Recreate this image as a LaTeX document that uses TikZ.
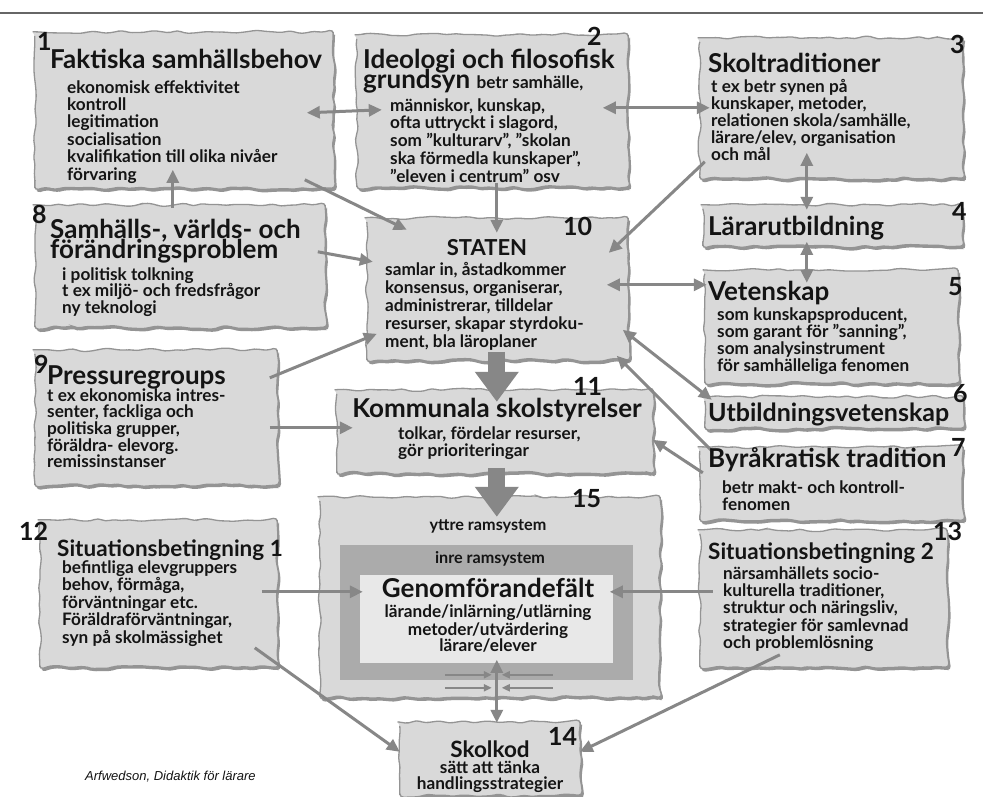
\documentclass[tikz,border=0pt]{standalone}
\usepackage{fontspec}
\setmainfont{Lato}
\newfontfamily\arialfont{Liberation Sans}
\usetikzlibrary{arrows.meta,decorations.pathmorphing,calc}
\newcommand\myN{\fontsize{25}{25}\selectfont\bfseries}
\newcommand\myT{\fontsize{26}{26}\selectfont\bfseries}
\newcommand\myU{\fontsize{25}{25}\selectfont\bfseries}
\newcommand\myC{\fontsize{22}{22}\selectfont\bfseries}
\newcommand\myS{\fontsize{22.5}{23}\selectfont\bfseries}
\newcommand\myB{\fontsize{17.2}{18}\selectfont\bfseries}
\newcommand\myR{\fontsize{16.2}{17}\selectfont\bfseries}
\newcommand\pbox[5]{\node[inner sep=0pt,minimum width={(#4-#2)*1pt},minimum height={(#5-#3)*1pt}] (#1) at ({(#2+#4)/2},{(#3+#5)/2}) {};
 \path[paper] (#1.north west) rectangle (#1.south east);}
\newcommand\tl[6]{\foreach \ltext [count=\k] in {#6}{\node[txt,font=#5] (#1-\k) at (#2,{#3+(\k-1)*#4}) {\ltext};}}
\newcommand\bxp[3]{([shift={(#2,#3)}]#1.north west)}
\begin{document}
\pgfmathsetseed{11}
\begin{tikzpicture}[x=1pt,y=-1pt,
 paper/.style={draw=black!42, line width=1.3pt, fill=black!15,
   decorate, decoration={random steps,segment length=8pt,amplitude=1.8pt}, rounded corners=4pt,
   preaction={fill=black!42, transform canvas={shift={(1.8pt,-2.8pt)}}}},
 txt/.style={anchor=base west, inner sep=0pt, text=black!92},
 ctxt/.style={anchor=base, inner sep=0pt, text=black!92},
 arr/.style={draw=black!47, line width=3pt, -{Triangle[length=13pt,width=12pt]}},
 darr/.style={draw=black!47, line width=3pt, {Triangle[length=13pt,width=12pt]}-{Triangle[length=13pt,width=12pt]}},
 bigarr/.style={draw=black!47, line width=17pt, -{Triangle[length=30pt,width=42pt]}},
 smarr/.style={draw=black!47, line width=2pt, -{Triangle[length=8pt,width=7pt]}}]
\useasboundingbox (0,0) rectangle (983,796);
\fill[white] (0,0) rectangle (983,796);
\draw[black!60, line width=1.2pt] (0,13) -- (983,13);
% boxes
\pbox{b1}{35}{32}{333}{188}
\pbox{b2}{357}{35}{628}{187}
\pbox{b3}{700}{38}{963}{178}
\pbox{b4}{703}{205}{962}{246}
\pbox{b5}{705}{270}{958}{383}
\pbox{b6}{705}{397}{963}{428}
\pbox{b7}{700}{447}{963}{520}
\pbox{b8}{35}{205}{325}{327}
\pbox{b9}{35}{350}{277}{485}
\pbox{b10}{367}{218}{628}{360}
\pbox{b11}{337}{390}{653}{473}
\pbox{b15}{320}{497}{660}{697}
\pbox{b12}{40}{520}{277}{667}
\pbox{b13}{700}{530}{947}{667}
\pbox{b14}{400}{722}{580}{795}
\node[fill=black!33, inner sep=0pt, minimum width=293pt, minimum height=135pt] (ir) at (486.5,612.5) {};
\node[fill=black!9, inner sep=0pt, minimum width=253pt, minimum height=88pt] (g) at (486.5,619) {};
% arrows
\draw[darr] \bxp{b1}{272}{81} -- \bxp{b2}{25}{75};
\draw[darr] \bxp{b2}{246}{73} -- \bxp{b3}{10}{70};
\draw[arr] \bxp{b8}{138}{3} -- \bxp{b1}{138}{138};
\draw[arr] \bxp{b1}{270}{148} -- \bxp{b10}{40}{12};
\draw[arr] \bxp{b2}{140}{148} -- \bxp{b10}{130}{15};
\draw[arr] \bxp{b3}{5}{124} -- \bxp{b10}{242}{35};
\draw[darr] \bxp{b3}{107}{115} -- \bxp{b4}{104}{5};
\draw[darr] \bxp{b4}{104}{37} -- \bxp{b5}{102}{13};
\draw[darr] \bxp{b10}{240}{67} -- \bxp{b5}{2}{15};
\draw[arr] \bxp{b8}{283}{47} -- \bxp{b10}{6}{44};
\draw[arr] \bxp{b9}{235}{28} -- \bxp{b10}{10}{116};
\draw[arr] \bxp{b9}{235}{78} -- \bxp{b11}{16}{38};
\draw[darr] \bxp{b10}{256}{112} -- \bxp{b6}{7}{3};
\draw[arr] \bxp{b7}{13}{5} -- \bxp{b10}{250}{138};
\draw[arr] \bxp{b7}{3}{26} -- \bxp{b11}{316}{50};
\draw[bigarr] \bxp{b10}{130}{134} -- \bxp{b11}{160}{12};
\draw[bigarr] \bxp{b11}{160}{78} -- \bxp{b15}{177}{20};
\draw[arr] \bxp{b12}{222}{72} -- \bxp{g}{3}{17};
\draw[arr] \bxp{b13}{13}{62} -- \bxp{g}{250}{17};
\draw[arr] \bxp{b12}{215}{128} -- \bxp{b14}{0}{30};
\draw[arr] \bxp{b13}{80}{125} -- \bxp{b14}{180}{30};
\draw[darr] \bxp{g}{137}{85} -- \bxp{b14}{97}{1};
\draw[smarr] \bxp{b15}{125}{178} -- \bxp{b15}{172}{178};
\draw[smarr] \bxp{b15}{233}{178} -- \bxp{b15}{182}{178};
\draw[smarr] \bxp{b15}{125}{191} -- \bxp{b15}{172}{191};
\draw[smarr] \bxp{b15}{233}{191} -- \bxp{b15}{182}{191};
% numbers
\node[txt,font=\myN] (n1) at (37,50) {1};
\node[txt,font=\myN] (n2) at (587,45) {2};
\node[txt,font=\myN] (n3) at (950,53) {3};
\node[txt,font=\myN] (n4) at (952,220) {4};
\node[txt,font=\myN] (n5) at (948,295) {5};
\node[txt,font=\myN] (n6) at (953,402) {6};
\node[txt,font=\myN] (n7) at (951,456) {7};
\node[txt,font=\myN] (n8) at (32,223) {8};
\node[txt,font=\myN] (n9) at (34,373) {9};
\node[txt,font=\myN] (n10) at (563,235) {10};
\node[txt,font=\myN] (n11) at (573,395) {11};
\node[txt,font=\myN] (n12) at (19,540) {12};
\node[txt,font=\myN] (n13) at (933,540) {13};
\node[txt,font=\myN] (n14) at (548,745) {14};
\node[txt,font=\myN] (n15) at (572,507) {15};
% texts
\node[txt,font=\myT] (h1) at (50,68) {Faktiska samhällsbehov};
\tl{t1}{67}{93}{17.4}{\myB}{{ekonomisk effektivitet},{kontroll},{legitimation},{socialisation},{kvalifikation till olika nivåer},{förvaring}}
\node[txt,font=\myT] (h2a) at (363,68) {Ideologi och filosofisk};
\node[txt,font=\myT] (h2b) at (363,88) {grundsyn {\myB betr samhälle,}};
\tl{t2}{390}{111}{17.9}{\myB}{{människor, kunskap,},{ofta uttryckt i slagord,},{som "kulturarv", "skolan},{ska förmedla kunskaper",},{"eleven i centrum" osv}}
\node[txt,font=\myT] (h3) at (708,72) {Skoltraditioner};
\tl{t3}{711}{92}{17}{\myB}{{t ex betr synen på},{kunskaper, metoder,},{relationen skola/samhälle,},{lärare/elev, organisation},{och mål}}
\node[txt,font=\myT] (h4) at (708,235) {Lärarutbildning};
\node[txt,font=\myT] (h5) at (708,300) {Vetenskap};
\tl{t5}{717}{320}{17.3}{\myB}{{som kunskapsproducent,},{som garant för "sanning",},{som analysinstrument},{för samhälleliga fenomen}}
\node[txt,font=\myU] (h6) at (708,421) {Utbildningsvetenskap};
\node[txt,font=\myT] (h7) at (708,467) {Byråkratisk tradition};
\tl{t7}{722}{493}{17}{\myB}{{betr makt- och kontroll-},{fenomen}}
\tl{h8}{50}{238}{20}{\myT}{{Samhälls-, världs- och},{förändringsproblem}}
\tl{t8}{62}{280}{16.8}{\myB}{{i politisk tolkning},{t ex miljö- och fredsfrågor},{ny teknologi}}
\node[txt,font=\myT] (h9) at (47,384) {Pressuregroups};
\tl{t9}{47}{401}{16.7}{\myB}{{t ex ekonomiska intres-},{senter, fackliga och},{politiska grupper,},{föräldra- elevorg.},{remissinstanser}}
\node[ctxt,font=\myC] (h10) at (487,255) {STATEN};
\tl{t10}{385}{275}{18}{\myB}{{samlar in, åstadkommer},{konsensus, organiserar,},{administrerar, tilldelar},{resurser, skapar styrdoku-},{ment, bla läroplaner}}
\node[ctxt,font=\myT] (h11) at (497,417) {Kommunala skolstyrelser};
\tl{t11}{398}{439}{17}{\myB}{{tolkar, fördelar resurser,},{gör prioriteringar}}
\node[txt,font=\myS] (h12) at (57,556) {Situationsbetingning 1};
\tl{t12}{62}{573}{17.6}{\myB}{{befintliga elevgruppers},{behov, förmåga,},{förväntningar etc.},{Föräldraförväntningar,},{syn på skolmässighet}}
\node[txt,font=\myS] (h13) at (708,559) {Situationsbetingning 2};
\tl{t13}{723}{579}{17.4}{\myB}{{närsamhällets socio-},{kulturella traditioner,},{struktur och näringsliv,},{strategier för samlevnad},{och problemlösning}}
\node[ctxt,font=\myS] (h14) at (490,757) {Skolkod};
\node[ctxt,font=\myB] (t14a) at (490,773) {sätt att tänka};
\node[ctxt,font=\myB] (t14b) at (490,789) {handlingsstrategier};
\node[ctxt,font=\myR] (y15) at (488,530) {yttre ramsystem};
\node[ctxt,font=\myR] (i15) at (490,563) {inre ramsystem};
\node[ctxt,font=\myT] (h15) at (488,597) {Genomförandefält};
\node[ctxt,font=\myB] (t15a) at (488,617) {lärande/inlärning/utlärning};
\node[ctxt,font=\myB] (t15b) at (488,635) {metoder/utvärdering};
\node[ctxt,font=\myB] (t15c) at (488,651) {lärare/elever};
\node[txt,font=\arialfont\itshape\fontsize{13}{13}\selectfont] (src) at (85,780) {Arfwedson, Didaktik för lärare};
\end{tikzpicture}
\end{document}
